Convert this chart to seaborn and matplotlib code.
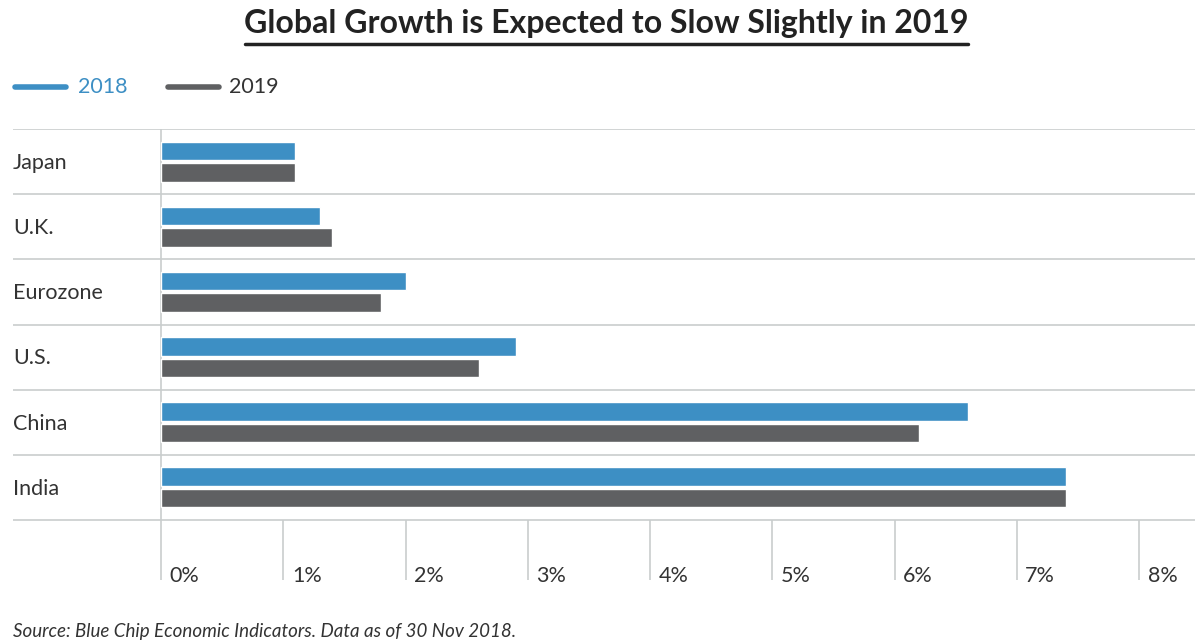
import pandas as pd
import matplotlib.pyplot as plt
import seaborn as sns
from matplotlib.lines import Line2D

countries = ['Japan', 'U.K.', 'Eurozone', 'U.S.', 'China', 'India']
growth_2018 = [1.1, 1.3, 2.0, 2.9, 6.6, 7.4]
growth_2019 = [1.1, 1.4, 1.8, 2.6, 6.2, 7.4]
years = ['2018', '2019']
tick_labels = ['0%', '1%', '2%', '3%', '4%', '5%', '6%', '7%', '8%']

df = pd.DataFrame({
    'country': countries * 2,
    'year': ['2018'] * len(countries) + ['2019'] * len(countries),
    'growth': growth_2018 + growth_2019,
})

blue = '#3d8fc4'
gray = '#5f6062'
grid = '#c9cdcd'
txt = '#333333'

sns.set_theme(style='white')
plt.rcParams['font.family'] = ['Lato', 'DejaVu Sans']

W, H = 1195, 644
fig = plt.figure(figsize=(W / 100, H / 100), dpi=100)
# axes from x=13..1195 px, y=129..580 px
ax = fig.add_axes([13 / W, 1 - 580 / H, (W - 13) / W, (580 - 129) / H])

sns.barplot(data=df, y='country', x='growth', hue='year', orient='h',
            palette=[blue, gray], width=0.66, gap=0.14, saturation=1,
            legend=False, ax=ax, zorder=3)

px_per_unit = 122.25
row_px = 65.17
ax.set_xlim(-(161 - 13) / px_per_unit, (W - 161) / px_per_unit)
y_bottom = 5.5 + 60 / row_px
ax.set_ylim(y_bottom, -0.5)

# zero line spans the whole chart, the others only the tick band
ax.vlines(0, -0.5, y_bottom, color=grid, lw=1.2, zorder=1)
ax.vlines(range(1, len(tick_labels)), 5.5, y_bottom, color=grid, lw=1.2, zorder=1)
for i in range(len(tick_labels)):
    ax.text(i + 0.07, 5.5 + 62 / row_px, tick_labels[i], fontsize=15.5, color=txt,
            ha='left', va='baseline')
for j in range(len(countries) + 1):
    ax.axhline(j - 0.5, color=grid, lw=1.2, zorder=1)
for j, c in enumerate(countries):
    ax.text(0, j + 0.02, c, transform=ax.get_yaxis_transform(), fontsize=15.5,
            color=txt, ha='left', va='center')

ax.set_xticks([])
ax.set_yticks([])
ax.set_xlabel('')
ax.set_ylabel('')
for s in ax.spines.values():
    s.set_visible(False)

# title with underline
fig.text(606 / W, 1 - 33 / H, 'Global Growth is Expected to Slow Slightly in 2019',
         ha='center', va='baseline', fontsize=23, fontweight='bold', color='#222222')
fig.add_artist(Line2D([245 / W, 968 / W], [1 - 44 / H, 1 - 44 / H],
                      color='#222222', lw=2.5))

# legend
for x0, xt, col, lab in [(13, 78, blue, years[0]), (166, 229, gray, years[1])]:
    fig.add_artist(Line2D([(x0 + 2) / W, (x0 + 53) / W], [1 - 87 / H, 1 - 87 / H],
                          color=col, lw=4, solid_capstyle='round'))
    fig.text(xt / W, 1 - 87 / H, lab, fontsize=15.5,
             color=col if col == blue else txt, ha='left', va='center')

fig.text(13 / W, 1 - 631 / H,
         'Source: Blue Chip Economic Indicators. Data as of 30 Nov 2018.',
         fontsize=13.5, style='italic', color=txt, ha='left', va='center')

fig.savefig('out.png', dpi=100)
